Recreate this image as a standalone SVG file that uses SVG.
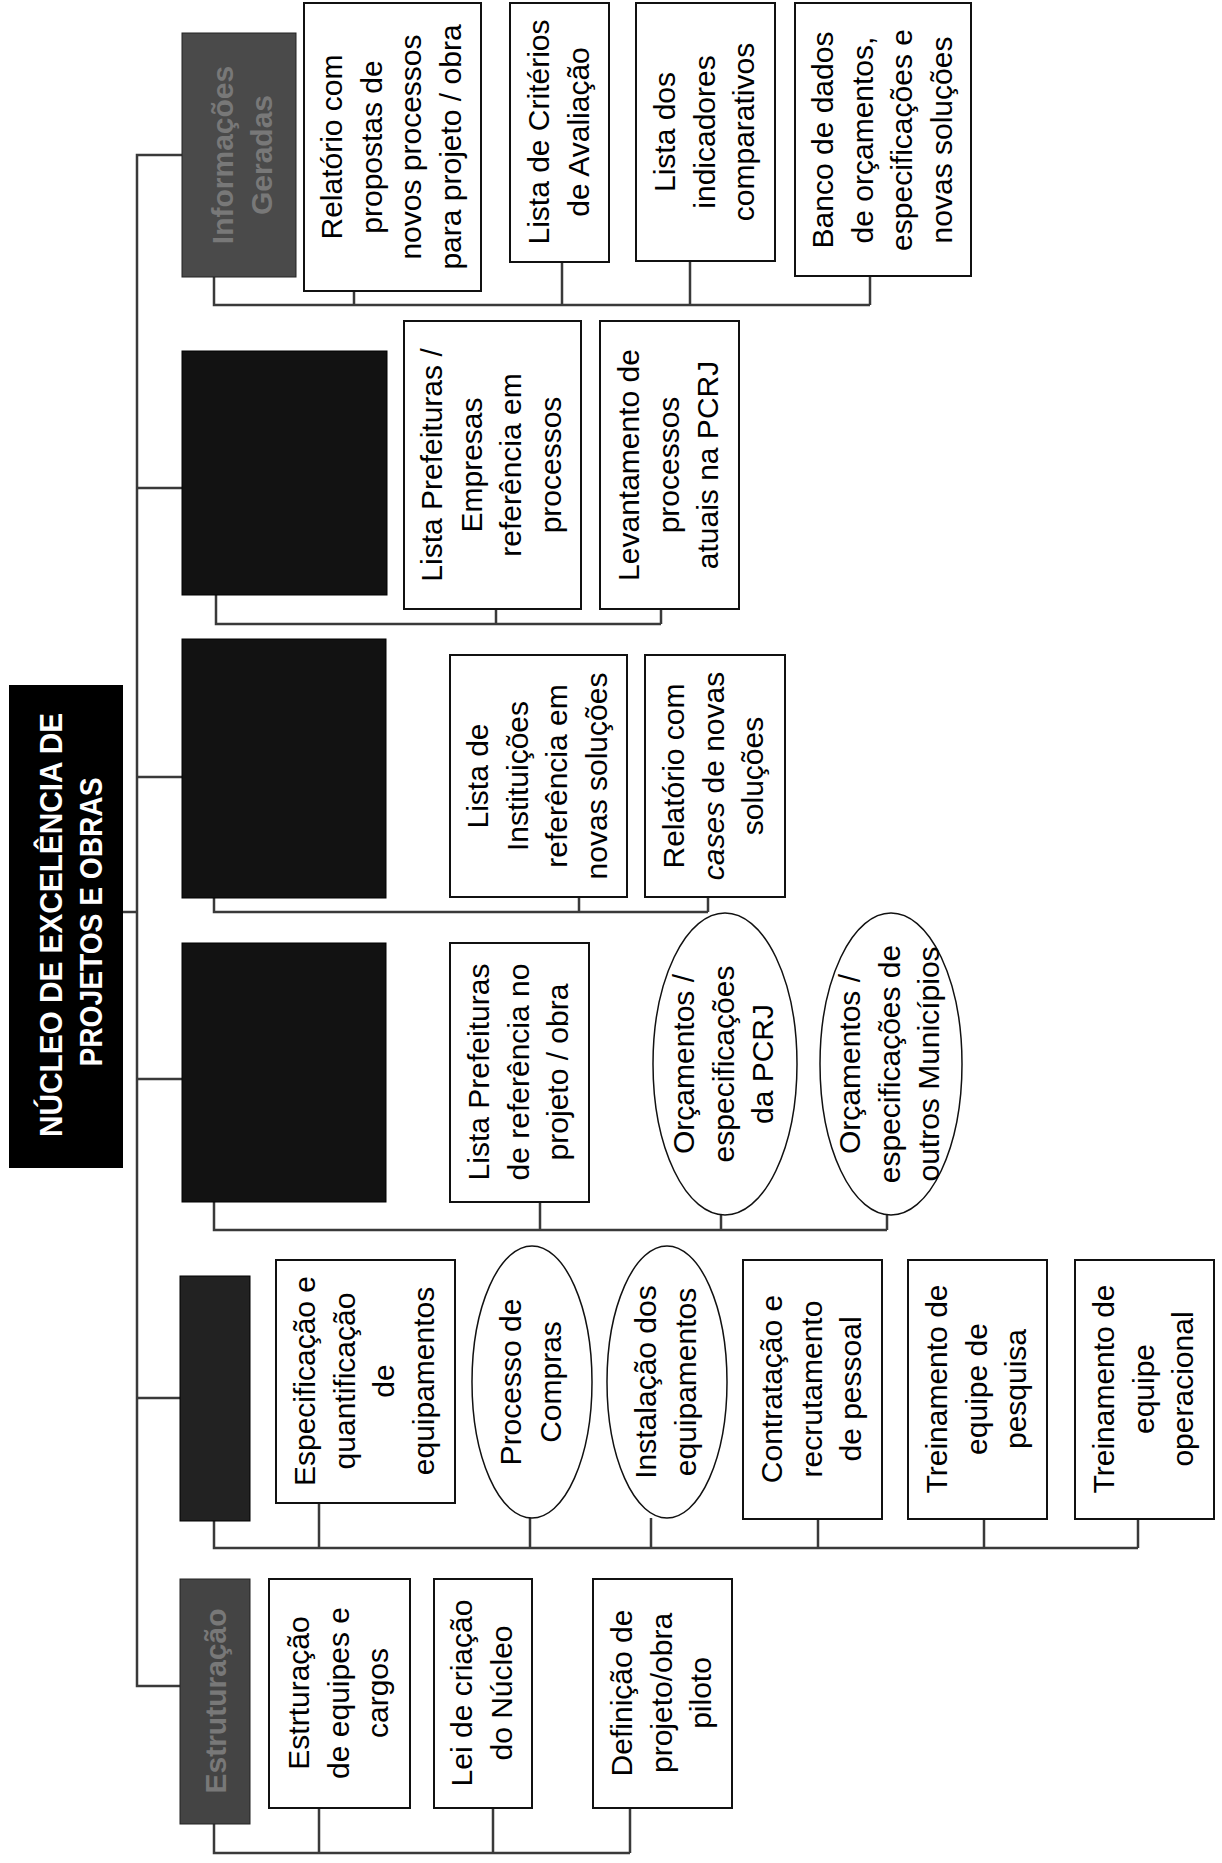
<svg xmlns="http://www.w3.org/2000/svg" width="1222" height="1863" viewBox="0 0 1222 1863">
<style>
.bg{fill:#fff}
.box{fill:#fff;stroke:#111;stroke-width:2}
.ell{fill:#fff;stroke:#111;stroke-width:1.5}
.dk{fill:#121212;stroke:#000;stroke-width:1}
.dkg{fill:#4a4a4a;stroke:#222;stroke-width:1}
.lbl{font-family:"Liberation Sans",Arial,sans-serif;font-size:30px;fill:#000;text-anchor:middle}
.ttl{font-family:"Liberation Sans",Arial,sans-serif;font-size:31px;font-weight:bold;fill:#fff;text-anchor:middle}
.dtx{font-family:"Liberation Sans",Arial,sans-serif;font-size:30px;font-weight:bold;fill:#787878;text-anchor:middle}
.conn{fill:none;stroke:#3a3a3a;stroke-width:2.5}
</style>
<rect class="bg" x="0" y="0" width="1222" height="1863"/>

<g id="connectors">
  <path class="conn" d="M123,912 H137"/>
  <path class="conn" d="M182,155 H137 V1686 H180"/>
  <path class="conn" d="M137,488 H182 M137,777 H182 M137,1079 H182 M137,1398 H180"/>
  <path class="conn" d="M214,277 V305 H870 M354,291 V305 M562,262 V305 M690,261 V305 M870,276 V305"/>
  <path class="conn" d="M216,595 V624 H661 M496,609 V624 M661,609 V624"/>
  <path class="conn" d="M214,898 V912 H708 M579,897 V912 M708,897 V912"/>
  <path class="conn" d="M214,1202 V1230 H887 M540,1202 V1230 M721,1215 V1230 M887,1215 V1230"/>
  <path class="conn" d="M214,1521 V1548 H1138 M319,1503 V1548 M530,1518 V1548 M651,1518 V1548 M818,1519 V1548 M984,1519 V1548 M1138,1519 V1548"/>
  <path class="conn" d="M214,1824 V1853 H630 M319,1808 V1853 M493,1808 V1853 M630,1808 V1853"/>
</g>

<g id="title">
  <rect x="9" y="685" width="114" height="483" fill="#000"/>
  <text class="ttl" transform="translate(62,925) rotate(-90)" textLength="424" lengthAdjust="spacingAndGlyphs">NÚCLEO DE EXCELÊNCIA DE</text>
  <text class="ttl" transform="translate(102,922) rotate(-90)" textLength="289" lengthAdjust="spacingAndGlyphs">PROJETOS E OBRAS</text>
</g>

<g id="d1">
  <rect class="dkg" x="182" y="33" width="114" height="244"/>
  <text class="dtx" transform="translate(233,155) rotate(-90)"><tspan x="0" y="0">Informações</tspan><tspan x="0" dy="39">Geradas</tspan></text>
</g>
<g id="d2"><rect class="dk" x="182" y="351" width="205" height="244"/></g>
<g id="d3"><rect class="dk" x="182" y="639" width="204" height="259"/></g>
<g id="d4"><rect class="dk" x="182" y="943" width="204" height="259"/></g>
<g id="d5"><rect class="dk" x="180" y="1276" width="70" height="245" style="fill:#222"/></g>
<g id="d6">
  <rect class="dkg" x="180" y="1579" width="70" height="245" style="fill:#444"/>
  <text class="dtx" transform="translate(226,1701) rotate(-90)">Estruturação</text>
</g>

<g id="n1a">
  <rect class="box" x="304" y="3" width="177" height="288"/>
  <text class="lbl" transform="translate(342,147) rotate(-90)"><tspan x="0" y="0">Relatório com</tspan><tspan x="0" dy="39.6">propostas de</tspan><tspan x="0" dy="39.6">novos processos</tspan><tspan x="0" dy="39.6">para projeto / obra</tspan></text>
</g>
<g id="n1b">
  <rect class="box" x="510" y="3" width="99" height="259"/>
  <text class="lbl" transform="translate(549,132) rotate(-90)"><tspan x="0" y="0">Lista de Critérios</tspan><tspan x="0" dy="39.6">de Avaliação</tspan></text>
</g>
<g id="n1c">
  <rect class="box" x="636" y="3" width="139" height="258"/>
  <text class="lbl" transform="translate(675,132) rotate(-90)"><tspan x="0" y="0">Lista dos</tspan><tspan x="0" dy="39.6">indicadores</tspan><tspan x="0" dy="39.6">comparativos</tspan></text>
</g>
<g id="n1d">
  <rect class="box" x="795" y="3" width="176" height="273"/>
  <text class="lbl" transform="translate(833,140) rotate(-90)"><tspan x="0" y="0">Banco de dados</tspan><tspan x="0" dy="39.6">de orçamentos,</tspan><tspan x="0" dy="39.6">especificações e</tspan><tspan x="0" dy="39.6">novas soluções</tspan></text>
</g>

<g id="n2a">
  <rect class="box" x="404" y="321" width="177" height="288"/>
  <text class="lbl" transform="translate(442,465) rotate(-90)"><tspan x="0" y="0">Lista Prefeituras /</tspan><tspan x="0" dy="39.6">Empresas</tspan><tspan x="0" dy="39.6">referência em</tspan><tspan x="0" dy="39.6">processos</tspan></text>
</g>
<g id="n2b">
  <rect class="box" x="600" y="321" width="139" height="288"/>
  <text class="lbl" transform="translate(639,465) rotate(-90)"><tspan x="0" y="0">Levantamento de</tspan><tspan x="0" dy="39.6">processos</tspan><tspan x="0" dy="39.6">atuais na PCRJ</tspan></text>
</g>

<g id="n3a">
  <rect class="box" x="450" y="655" width="177" height="242"/>
  <text class="lbl" transform="translate(488,776) rotate(-90)"><tspan x="0" y="0">Lista de</tspan><tspan x="0" dy="39.6">Instituições</tspan><tspan x="0" dy="39.6">referência em</tspan><tspan x="0" dy="39.6">novas soluções</tspan></text>
</g>
<g id="n3b">
  <rect class="box" x="645" y="655" width="140" height="242"/>
  <text class="lbl" transform="translate(684,776) rotate(-90)"><tspan x="0" y="0">Relatório com</tspan><tspan x="0" dy="39.6"><tspan font-style="italic">cases</tspan> de novas</tspan><tspan x="0" dy="39.6">soluções</tspan></text>
</g>

<g id="n4a">
  <rect class="box" x="450" y="943" width="139" height="259"/>
  <text class="lbl" transform="translate(489,1072) rotate(-90)"><tspan x="0" y="0">Lista Prefeituras</tspan><tspan x="0" dy="39.6">de referência no</tspan><tspan x="0" dy="39.6">projeto / obra</tspan></text>
</g>
<g id="e4b">
  <ellipse class="ell" cx="725" cy="1064" rx="72" ry="151"/>
  <text class="lbl" transform="translate(694,1064) rotate(-90)"><tspan x="0" y="0">Orçamentos /</tspan><tspan x="0" dy="39.6">especificações</tspan><tspan x="0" dy="39.6">da PCRJ</tspan></text>
</g>
<g id="e4c">
  <ellipse class="ell" cx="891" cy="1064" rx="71" ry="151"/>
  <text class="lbl" transform="translate(860,1064) rotate(-90)"><tspan x="0" y="0">Orçamentos /</tspan><tspan x="0" dy="39.6">especificações de</tspan><tspan x="0" dy="39.6">outros Municípios</tspan></text>
</g>

<g id="n5a">
  <rect class="box" x="276" y="1260" width="179" height="243"/>
  <text class="lbl" transform="translate(315,1381) rotate(-90)"><tspan x="0" y="0">Especificação e</tspan><tspan x="0" dy="39.6">quantificação</tspan><tspan x="0" dy="39.6">de</tspan><tspan x="0" dy="39.6">equipamentos</tspan></text>
</g>
<g id="e5b">
  <ellipse class="ell" cx="532" cy="1382" rx="60" ry="136"/>
  <text class="lbl" transform="translate(521,1382) rotate(-90)"><tspan x="0" y="0">Processo de</tspan><tspan x="0" dy="39.6">Compras</tspan></text>
</g>
<g id="e5c">
  <ellipse class="ell" cx="667" cy="1382" rx="60" ry="136"/>
  <text class="lbl" transform="translate(656,1382) rotate(-90)"><tspan x="0" y="0">Instalação dos</tspan><tspan x="0" dy="39.6">equipamentos</tspan></text>
</g>
<g id="n5d">
  <rect class="box" x="743" y="1260" width="139" height="259"/>
  <text class="lbl" transform="translate(782,1389) rotate(-90)"><tspan x="0" y="0">Contratação e</tspan><tspan x="0" dy="39.6">recrutamento</tspan><tspan x="0" dy="39.6">de pessoal</tspan></text>
</g>
<g id="n5e">
  <rect class="box" x="908" y="1260" width="139" height="259"/>
  <text class="lbl" transform="translate(947,1389) rotate(-90)"><tspan x="0" y="0">Treinamento de</tspan><tspan x="0" dy="39.6">equipe de</tspan><tspan x="0" dy="39.6">pesquisa</tspan></text>
</g>
<g id="n5f">
  <rect class="box" x="1075" y="1260" width="139" height="259"/>
  <text class="lbl" transform="translate(1114,1389) rotate(-90)"><tspan x="0" y="0">Treinamento de</tspan><tspan x="0" dy="39.6">equipe</tspan><tspan x="0" dy="39.6">operacional</tspan></text>
</g>

<g id="n6a">
  <rect class="box" x="269" y="1579" width="141" height="229"/>
  <text class="lbl" transform="translate(309,1693) rotate(-90)"><tspan x="0" y="0">Estrturação</tspan><tspan x="0" dy="39.6">de equipes e</tspan><tspan x="0" dy="39.6">cargos</tspan></text>
</g>
<g id="n6b">
  <rect class="box" x="434" y="1579" width="98" height="229"/>
  <text class="lbl" transform="translate(472,1693) rotate(-90)"><tspan x="0" y="0">Lei de criação</tspan><tspan x="0" dy="39.6">do Núcleo</tspan></text>
</g>
<g id="n6c">
  <rect class="box" x="593" y="1579" width="139" height="229"/>
  <text class="lbl" transform="translate(632,1693) rotate(-90)"><tspan x="0" y="0">Definição de</tspan><tspan x="0" dy="39.6">projeto/obra</tspan><tspan x="0" dy="39.6">piloto</tspan></text>
</g>
</svg>
